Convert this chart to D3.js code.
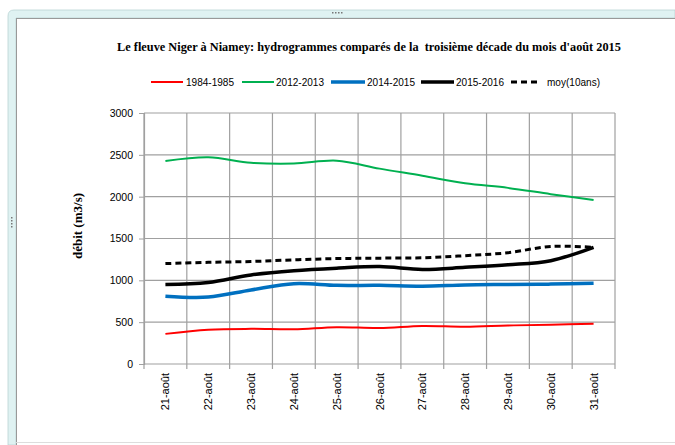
<!DOCTYPE html>
<html>
<head>
<meta charset="utf-8">
<script src="https://cdn.jsdelivr.net/npm/d3@7"></script>
<style>
  body { margin: 0; background: #fff; }
</style>
</head>
<body>
<div id="chart-area"></div>
<script>
var days = ["21-août","22-août","23-août","24-août","25-août","26-août","27-août","28-août","29-août","30-août","31-août"];
var s1984 = [360, 410, 420, 415, 440, 430, 455, 445, 460, 470, 480];
var s2012 = [2425, 2470, 2405, 2395, 2430, 2335, 2250, 2160, 2105, 2030, 1960];
var s2014 = [810, 800, 885, 960, 940, 940, 930, 945, 950, 955, 965];
var s2015 = [950, 975, 1065, 1115, 1145, 1165, 1130, 1155, 1185, 1235, 1395];
var moy = [1200, 1215, 1225, 1245, 1260, 1265, 1270, 1295, 1330, 1405, 1395];
var yTicks = [0, 500, 1000, 1500, 2000, 2500, 3000];

var series = [
  {name: "1984-1985", values: s1984, color: "#ff0000", w: 2, dash: null},
  {name: "2012-2013", values: s2012, color: "#00b050", w: 2, dash: null},
  {name: "2014-2015", values: s2014, color: "#0070c0", w: 3.5, dash: null},
  {name: "2015-2016", values: s2015, color: "#000000", w: 3.5, dash: null},
  {name: "moy(10ans)", values: moy, color: "#000000", w: 3, dash: "6,4"}
];

var W = 675, H = 445;
var svg = d3.select("#chart-area").append("svg")
  .attr("width", W).attr("height", H);

// frame like the spreadsheet chart border
svg.append("path")
  .attr("d", "M8,445 L8,16 Q8,10 14,10 L675,10 L675,18 L16,18 L16,445 Z")
  .attr("fill", "#dff2f2").attr("stroke", "#b9d3d3").attr("stroke-width", 0.8);
svg.append("line").attr("x1", 16).attr("x2", 675).attr("y1", 18.5).attr("y2", 18.5)
  .attr("stroke", "#999").attr("stroke-width", 1);
svg.append("line").attr("x1", 16.5).attr("x2", 16.5).attr("y1", 18).attr("y2", 445)
  .attr("stroke", "#999").attr("stroke-width", 1);
svg.append("line").attr("x1", 16).attr("x2", 675).attr("y1", 442.5).attr("y2", 442.5)
  .attr("stroke", "#ddd").attr("stroke-width", 1);
// grip dots
[0, 1, 2, 3].forEach(function(i) {
  svg.append("rect").attr("x", 332 + i * 3).attr("y", 12).attr("width", 1.5).attr("height", 1.5).attr("fill", "#777");
  svg.append("rect").attr("x", 11).attr("y", 217 + i * 3).attr("width", 1.5).attr("height", 1.5).attr("fill", "#777");
});

var pLeft = 144, pRight = 615, pTop = 113, pBottom = 364;

var x = d3.scaleBand().domain(days).range([pLeft, pRight]);
var y = d3.scaleLinear().domain([0, 3000]).range([pBottom, pTop]);

// grid
svg.append("g").selectAll("line").data(yTicks).enter().append("line")
  .attr("x1", pLeft).attr("x2", pRight)
  .attr("y1", function(d) { return y(d); }).attr("y2", function(d) { return y(d); })
  .attr("stroke", "#a0a0a0").attr("stroke-width", 1.2);
var bounds = days.map(function(d) { return x(d); }).concat([pRight]);
svg.append("g").selectAll("line").data(bounds).enter().append("line")
  .attr("x1", function(d) { return d; }).attr("x2", function(d) { return d; })
  .attr("y1", pTop).attr("y2", pBottom + 5)
  .attr("stroke", "#a0a0a0").attr("stroke-width", 1.2);

// y axis
svg.append("g")
  .attr("transform", "translate(" + pLeft + ",0)")
  .call(d3.axisLeft(y).tickValues(yTicks).tickFormat(d3.format("d")).tickSize(5).tickPadding(6))
  .call(function(g) {
    g.select(".domain").attr("stroke", "#a0a0a0").attr("stroke-width", 1.2);
    g.selectAll(".tick line").attr("stroke", "#a0a0a0");
    g.selectAll("text").attr("font-family", "Liberation Sans, Arial, sans-serif")
      .attr("font-size", "10.5px").attr("fill", "#000");
  });

// x labels
svg.append("g").selectAll("text").data(days).enter().append("text")
  .attr("transform", function(d) {
    return "translate(" + (x(d) + x.bandwidth() / 2 + 4) + "," + (pBottom + 9) + ") rotate(-90)";
  })
  .attr("text-anchor", "end")
  .attr("font-family", "Liberation Sans, Arial, sans-serif")
  .attr("font-size", "11px")
  .text(function(d) { return d; });

// lines
var line = d3.line()
  .x(function(d, i) { return x(days[i]) + x.bandwidth() / 2; })
  .y(function(d) { return y(d); })
  .curve(d3.curveCatmullRom.alpha(0.5));

svg.append("g").selectAll("path").data(series).enter().append("path")
  .attr("d", function(s) { return line(s.values); })
  .attr("fill", "none")
  .attr("stroke", function(s) { return s.color; })
  .attr("stroke-width", function(s) { return s.w; })
  .attr("stroke-dasharray", function(s) { return s.dash; });

// title
svg.append("text")
  .attr("x", 369).attr("y", 51)
  .attr("text-anchor", "middle")
  .attr("font-family", "Liberation Serif, Times New Roman, serif")
  .attr("font-weight", "bold")
  .attr("font-size", "12.3px")
  .style("white-space", "pre")
  .text("Le fleuve Niger à Niamey: hydrogrammes comparés de la  troisième décade du mois d'août 2015");

// y label
svg.append("text")
  .attr("transform", "translate(82,226) rotate(-90)")
  .attr("text-anchor", "middle")
  .attr("font-family", "Liberation Serif, Times New Roman, serif")
  .attr("font-weight", "bold")
  .attr("font-size", "13px")
  .text("débit (m3/s)");

// legend
var legX = [151, 242, 331, 421, 511];
var legLen = [32, 32, 34, 33, 29];
var legText = [186, 276, 367, 456, 547];
var leg = svg.append("g").selectAll("g").data(series).enter().append("g");
leg.append("line")
  .attr("x1", function(d, i) { return legX[i]; })
  .attr("x2", function(d, i) { return legX[i] + legLen[i]; })
  .attr("y1", 82).attr("y2", 82)
  .attr("stroke", function(s) { return s.color; })
  .attr("stroke-width", function(s) { return s.w; })
  .attr("stroke-dasharray", function(s) { return s.dash; });
leg.append("text")
  .attr("x", function(d, i) { return legText[i]; })
  .attr("y", 86)
  .attr("font-family", "Liberation Sans, Arial, sans-serif")
  .attr("font-size", "10.5px")
  .attr("textLength", function(s) { return s.name === "moy(10ans)" ? 53 : 48; })
  .attr("lengthAdjust", "spacingAndGlyphs")
  .text(function(s) { return s.name; });
</script>
</body>
</html>
